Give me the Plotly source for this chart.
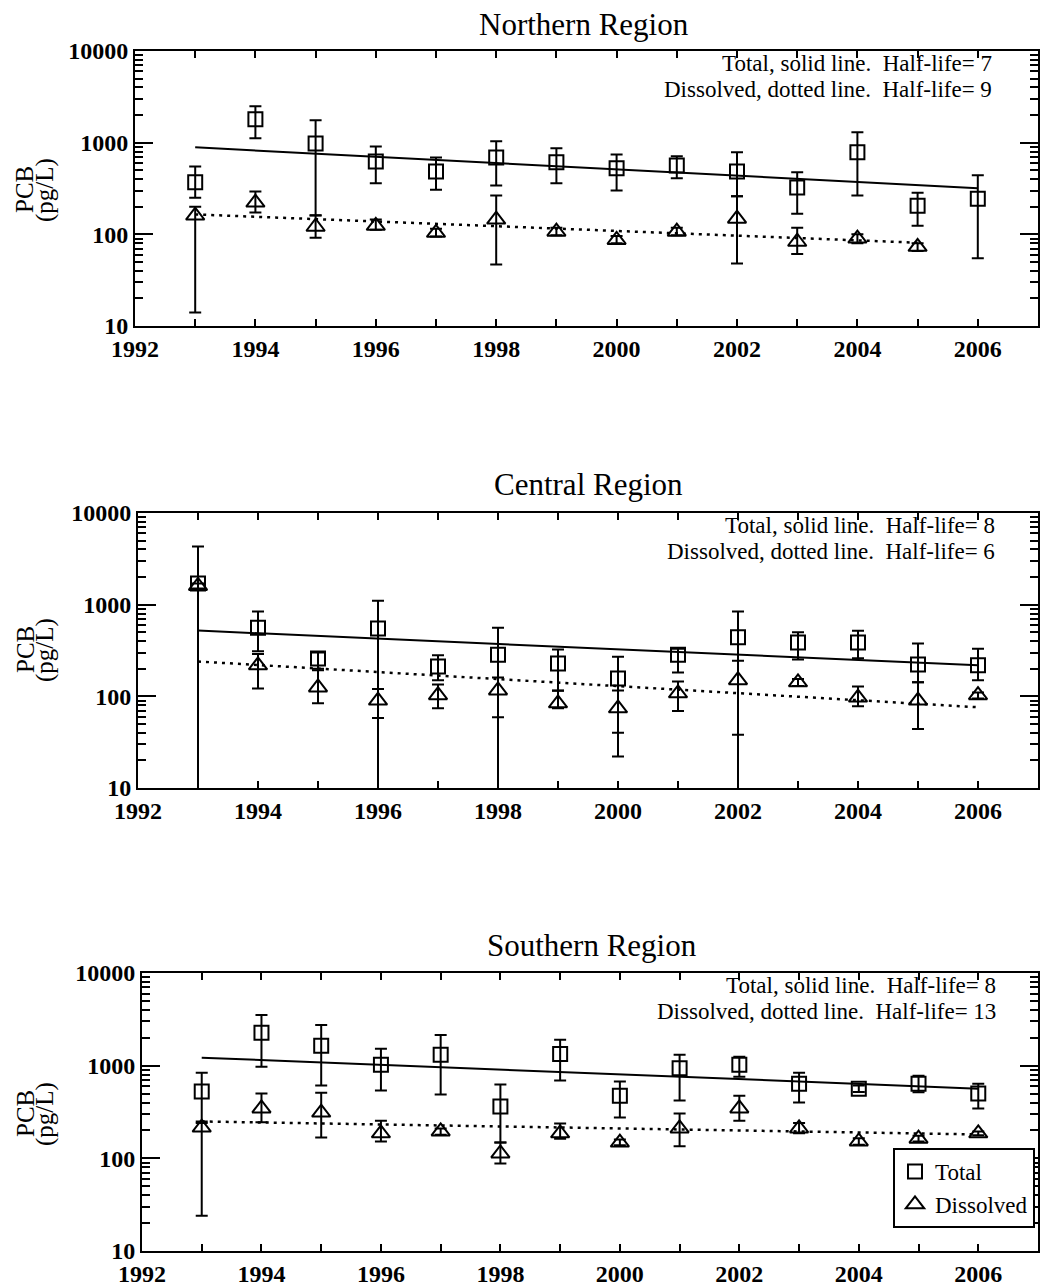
import plotly.graph_objects as go

W, H = 1040, 1287

# ---------------- data ----------------
years = [1993, 1994, 1995, 1996, 1997, 1998, 1999, 2000, 2001, 2002, 2003, 2004, 2005, 2006]
north_diss_years = years[:-1]

north_total = [370, 1800, 980, 625, 486, 690, 610, 525, 565, 486, 325, 785, 205, 245]
north_total_hi = [550, 2500, 1760, 910, 690, 1035, 870, 745, 710, 785, 475, 1300, 285, 440]
north_total_lo = [250, 1120, 160, 360, 307, 340, 360, 300, 410, 260, 168, 265, 124, 55]
north_diss = [160, 222, 121, 124, 104, 145, 107, 87, 107, 148, 83, 90, 73]
north_diss_hi = [200, 293, 162, 145, 115, 265, 118, 96, 118, 260, 118, 100, 80]
north_diss_lo = [14, 173, 92, 112, 95, 47, 98, 80, 98, 48, 61, 80, 66]
north_fit_total_x = [1993, 2006]
north_fit_total_y = [890, 318]
north_fit_diss_x = [1993, 2005]
north_fit_diss_y = [165, 81]

central_total = [1700, 560, 258, 550, 212, 285, 228, 157, 285, 440, 387, 387, 223, 218]
central_total_hi = [4300, 840, 300, 1100, 280, 560, 325, 270, 330, 840, 500, 520, 376, 330]
central_total_lo = [5, 310, 192, 5, 150, 5, 116, 40, 182, 38, 253, 260, 142, 150]
central_diss = [1600, 218, 125, 90, 103, 116, 84, 74, 108, 150, 142, 97, 90, 103]
central_diss_hi = [1700, 290, 200, 120, 135, 160, 115, 116, 145, 245, 155, 128, 142, 110]
central_diss_lo = [1500, 122, 84, 58, 74, 59, 74, 22, 69, 5, 130, 78, 44, 95]
central_fit_total_x = [1993, 2006]
central_fit_total_y = [521, 218]
central_fit_diss_x = [1993, 2006]
central_fit_diss_y = [240, 76]

south_total = [527, 2265, 1640, 1025, 1315, 363, 1340, 475, 935, 1025, 640, 565, 640, 500]
south_total_hi = [840, 3530, 2750, 1520, 2140, 625, 1900, 675, 1310, 1250, 840, 610, 780, 640]
south_total_lo = [250, 975, 610, 540, 490, 148, 690, 275, 420, 760, 400, 520, 515, 346]
south_diss = [215, 346, 312, 186, 195, 113, 186, 148, 210, 346, 210, 152, 163, 186]
south_diss_hi = [240, 500, 510, 255, 210, 148, 237, 160, 305, 475, 240, 165, 175, 195]
south_diss_lo = [24, 245, 168, 152, 180, 88, 163, 138, 135, 255, 186, 140, 152, 178]
south_fit_total_x = [1993, 2006]
south_fit_total_y = [1220, 565]
south_fit_diss_x = [1993, 2006]
south_fit_diss_y = [250, 181]

titles = ["Northern Region", "Central Region", "Southern Region"]
half_life_total = [7, 8, 8]
half_life_diss = [9, 6, 13]

x_tick_years = [1992, 1994, 1996, 1998, 2000, 2002, 2004, 2006]
x_tick_labels = ["1992", "1994", "1996", "1998", "2000", "2002", "2004", "2006"]
y_tick_vals = [10, 100, 1000, 10000]
y_tick_labels = ["10", "100", "1000", "10000"]

# ---------------- layout helpers ----------------
def px(x):
    return x / W

def py(y):
    return 1 - y / H

FONT = "Liberation Serif"

panels = [
    dict(total=north_total, thi=north_total_hi, tlo=north_total_lo, tx=years,
         diss=north_diss, dhi=north_diss_hi, dlo=north_diss_lo, dx=north_diss_years,
         ftx=north_fit_total_x, fty=north_fit_total_y, fdx=north_fit_diss_x, fdy=north_fit_diss_y,
         left=135, right=1038, top=51, bottom=326, title_x=584, title_y=25,
         ann_x=994, ann_y1=63, ann_y2=89, lab_y=190),
    dict(total=central_total, thi=central_total_hi, tlo=central_total_lo, tx=years,
         diss=central_diss, dhi=central_diss_hi, dlo=central_diss_lo, dx=years,
         ftx=central_fit_total_x, fty=central_fit_total_y, fdx=central_fit_diss_x, fdy=central_fit_diss_y,
         left=138, right=1038, top=513, bottom=788, title_x=588, title_y=485,
         ann_x=997, ann_y1=525, ann_y2=551, lab_y=650),
    dict(total=south_total, thi=south_total_hi, tlo=south_total_lo, tx=years,
         diss=south_diss, dhi=south_diss_hi, dlo=south_diss_lo, dx=years,
         ftx=south_fit_total_x, fty=south_fit_total_y, fdx=south_fit_diss_x, fdy=south_fit_diss_y,
         left=142, right=1038, top=973, bottom=1251, title_x=592, title_y=945,
         ann_x=998, ann_y1=985, ann_y2=1011, lab_y=1114),
]

fig = go.Figure()
annotations = []
minor_y = [m * 10 ** k for k in range(1, 4) for m in range(2, 10)]

for i, p in enumerate(panels):
    n = "" if i == 0 else str(i + 1)
    xa, ya = "x" + n, "y" + n
    first_legend = (i == 2)

    fig.add_trace(go.Scatter(
        x=p["ftx"], y=p["fty"], mode="lines", xaxis=xa, yaxis=ya,
        line=dict(color="black", width=2), showlegend=False, hoverinfo="skip"))
    fig.add_trace(go.Scatter(
        x=p["fdx"], y=p["fdy"], mode="lines", xaxis=xa, yaxis=ya,
        line=dict(color="black", width=2.5, dash="3px,5px"), showlegend=False, hoverinfo="skip"))

    fig.add_trace(go.Scatter(
        x=p["tx"], y=p["total"], mode="markers", xaxis=xa, yaxis=ya, name="Total",
        marker=dict(symbol="square-open", size=14, color="black", line=dict(width=2, color="black")),
        error_y=dict(type="data", symmetric=False,
                     array=[h - v for h, v in zip(p["thi"], p["total"])],
                     arrayminus=[v - l for v, l in zip(p["total"], p["tlo"])],
                     color="black", thickness=2, width=6),
        showlegend=first_legend))
    fig.add_trace(go.Scatter(
        x=p["dx"], y=p["diss"], mode="markers", xaxis=xa, yaxis=ya, name="Dissolved",
        marker=dict(symbol="triangle-up-open", size=16, color="black", line=dict(width=2, color="black")),
        error_y=dict(type="data", symmetric=False,
                     array=[h - v for h, v in zip(p["dhi"], p["diss"])],
                     arrayminus=[v - l for v, l in zip(p["diss"], p["dlo"])],
                     color="black", thickness=2, width=6),
        showlegend=first_legend))

    xkey = "xaxis" + n
    ykey = "yaxis" + n
    fig.update_layout(**{
        xkey: dict(
            domain=[px(p["left"]), px(p["right"])], anchor=ya, range=[1992, 2007],
            tickvals=x_tick_years, ticktext=x_tick_labels,
            ticks="inside", ticklen=7, tickwidth=2, tickcolor="black",
            minor=dict(dtick=1, tick0=1992, ticks="inside", ticklen=7, tickwidth=2, tickcolor="black"),
            showline=True, linewidth=2, linecolor="black", mirror="allticks",
            showgrid=False, zeroline=False, ticklabelstandoff=0, automargin=False,
            tickfont=dict(family=FONT, size=24, color="black", weight="bold"),
        ),
        ykey: dict(
            domain=[py(p["bottom"]), py(p["top"])], anchor=xa, type="log", range=[1, 4],
            tickvals=y_tick_vals, ticktext=y_tick_labels,
            ticks="inside", ticklen=18, tickwidth=2, tickcolor="black",
            minor=dict(tickvals=minor_y, ticks="inside", ticklen=8, tickwidth=2, tickcolor="black"),
            showline=True, linewidth=2, linecolor="black", mirror="allticks",
            showgrid=False, zeroline=False, ticklabelstandoff=0, automargin=False,
            tickfont=dict(family=FONT, size=24, color="black", weight="bold"),
        ),
    })

    annotations.append(dict(
        text=titles[i], x=px(p["title_x"]), y=py(p["title_y"]), xref="paper", yref="paper",
        xanchor="center", yanchor="middle", showarrow=False,
        font=dict(family=FONT, size=31, color="black")))
    annotations.append(dict(
        text="Total, solid line.\u00a0\u00a0Half-life= %d" % half_life_total[i],
        x=px(p["ann_x"]), y=py(p["ann_y1"]), xref="paper", yref="paper",
        xanchor="right", yanchor="middle", showarrow=False,
        font=dict(family=FONT, size=23, color="black")))
    annotations.append(dict(
        text="Dissolved, dotted line.\u00a0\u00a0Half-life= %d" % half_life_diss[i],
        x=px(p["ann_x"]), y=py(p["ann_y2"]), xref="paper", yref="paper",
        xanchor="right", yanchor="middle", showarrow=False,
        font=dict(family=FONT, size=23, color="black")))
    annotations.append(dict(
        text="PCB", x=px(25), y=py(p["lab_y"]), xref="paper", yref="paper",
        xanchor="center", yanchor="middle", showarrow=False, textangle=-90,
        font=dict(family=FONT, size=25, color="black")))
    annotations.append(dict(
        text="(pg/L)", x=px(45), y=py(p["lab_y"]), xref="paper", yref="paper",
        xanchor="center", yanchor="middle", showarrow=False, textangle=-90,
        font=dict(family=FONT, size=25, color="black")))

fig.update_layout(
    width=W, height=H,
    margin=dict(l=0, r=0, t=0, b=0),
    paper_bgcolor="white", plot_bgcolor="white",
    annotations=annotations,
    showlegend=True,
    legend=dict(
        x=px(1035), y=py(1228), xanchor="right", yanchor="bottom",
        bordercolor="black", borderwidth=2, bgcolor="white",
        font=dict(family=FONT, size=23, color="black"),
        itemwidth=30, tracegroupgap=0,
    ),
)

fig.write_html("out.html")
